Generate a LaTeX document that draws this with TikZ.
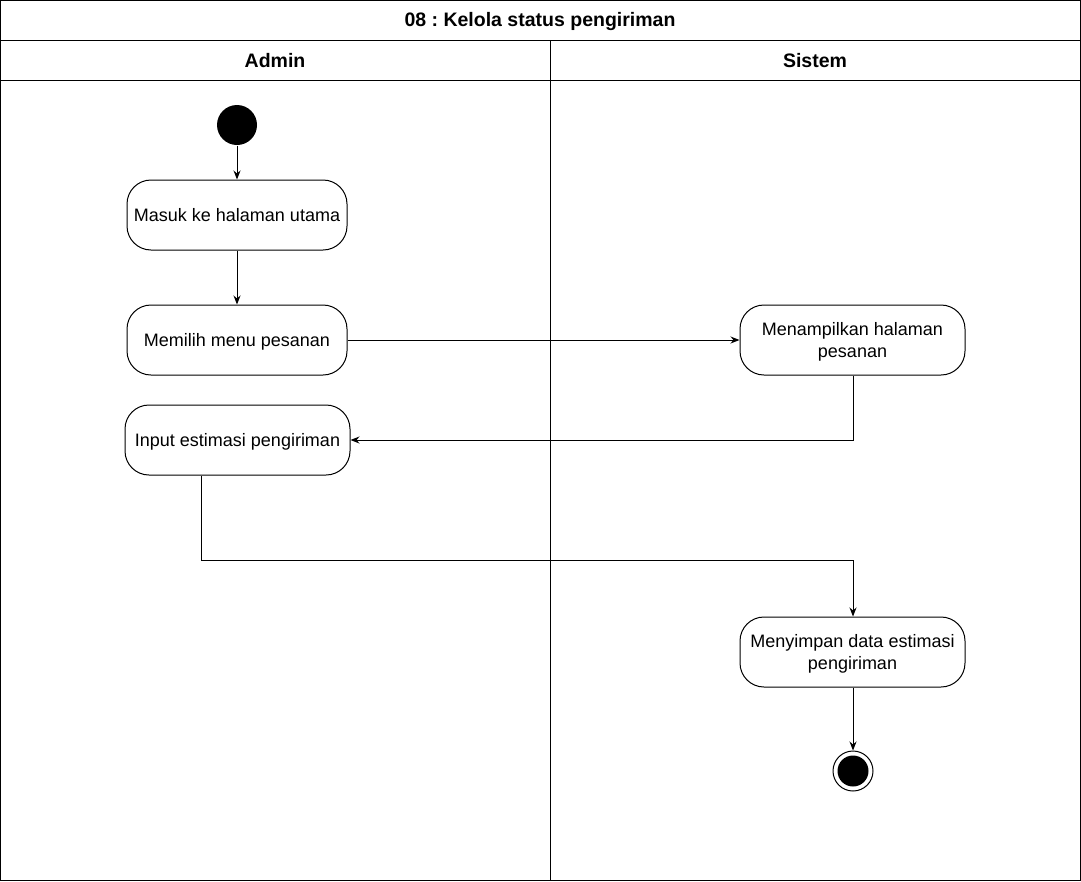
\documentclass[tikz,border=0pt]{standalone}
\usepackage{fontspec}
\setmainfont{Liberation Sans}
\usetikzlibrary{arrows.meta}
\begin{document}
\frenchspacing
\begin{tikzpicture}[x=1pt,y=-1pt,line width=1pt,
  act/.style={draw,rounded corners=24pt,minimum height=70pt,align=center,font=\fontsize{18}{22}\selectfont,inner sep=2pt,text depth=0pt},
  flow/.style={-{Stealth[length=9pt,width=7pt]},line width=1pt},
  hdr/.style={font=\bfseries\fontsize{19.5}{23}\selectfont}]
\useasboundingbox (0,0) rectangle (1081,881);
% frame
\draw (0.6,0.6) rectangle (1080.4,880.4);
\draw (0.6,40) -- (1080.4,40);
\draw (0.6,80) -- (1080.4,80);
\draw (550,40) -- (550,880.4);
\node[hdr] (title) at (540,21) {08 : Kelola status pengiriman};
\node[hdr] (admin) at (275,61) {Admin};
\node[hdr] (sistem) at (815,61) {Sistem};
% nodes
\node[circle,fill=black,minimum size=40pt,inner sep=0] (start) at (237,125) {};
\node[act,minimum width=220pt] (n1) at (237,215) {Masuk ke halaman utama};
\node[act,minimum width=220pt] (n2) at (237,340) {Memilih menu pesanan};
\node[act,minimum width=225pt] (n3) at (852.5,340) {Menampilkan halaman\\pesanan};
\node[act,minimum width=225pt] (n4) at (237.5,440) {Input estimasi pengiriman};
\node[act,minimum width=225pt] (n5) at (852.5,652) {Menyimpan data estimasi\\pengiriman};
\node[circle,draw,line width=1pt,minimum size=40pt,inner sep=0] (end) at (853,771) {};
\node[circle,fill=black,minimum size=31pt,inner sep=0] (endin) at (853,771) {};
% connectors
\draw[flow] (start) -- (n1);
\draw[flow] (n1) -- (n2);
\draw[flow] (n2) -- (n3);
\draw[flow] (n3.south -| end) |- (n4.east);
\coordinate (c4) at (201,560);
\draw[flow] (n4.south -| c4) -- (c4) -| (n5.north -| end);
\draw[flow] (n5.south -| end) -- (end);
\end{tikzpicture}
\end{document}
